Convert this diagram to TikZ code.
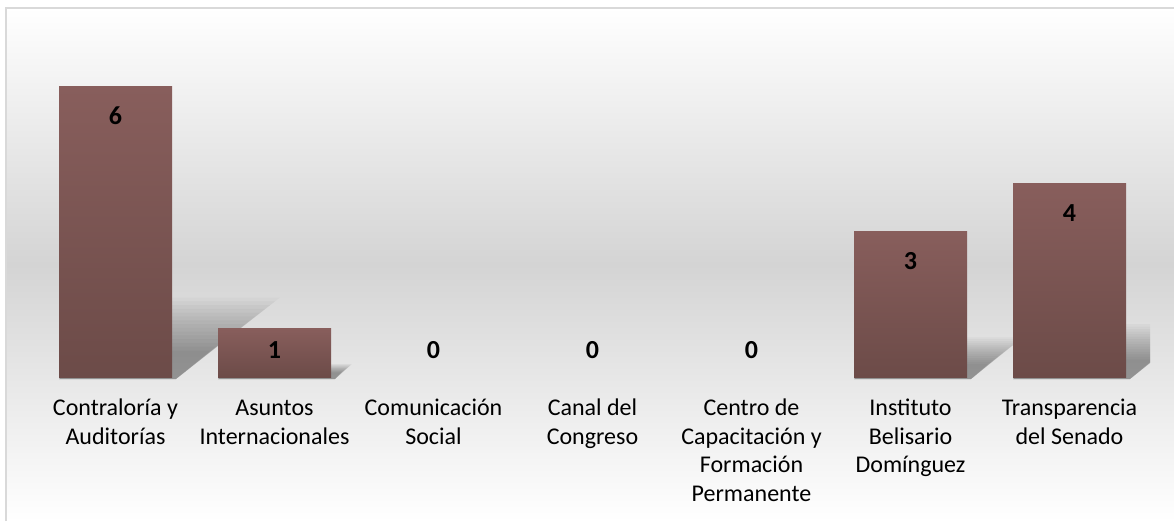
\documentclass[tikz,border=0pt]{standalone}
\usepackage{fontspec}
\setmainfont{Carlito}
\usetikzlibrary{calc}
\definecolor{barTop}{RGB}{136,94,92}
\definecolor{barBot}{RGB}{108,75,72}
\definecolor{bgMid}{RGB}{212,212,212}
\definecolor{frameCol}{RGB}{217,217,217}
\tikzset{
  bar/.style={top color=barTop, bottom color=barBot, draw=none},
  valbox/.style={font=\fontsize{13}{15.6}\selectfont\bfseries, inner sep=0pt},
  catbox/.style={font=\fontsize{12}{14.35}\selectfont, align=center, anchor=north, inner sep=0pt},
}

\begin{document}
\begin{tikzpicture}[x=0.5pt,y=-0.5pt]
  \pgfmathsetmacro{\base}{377};
  \pgfmathsetmacro{\unit}{48.5};
  \pgfmathsetmacro{\half}{56.5};
  \useasboundingbox (0,0) rectangle (1174,521);
  \fill[top color=white, bottom color=white, middle color=bgMid] (6,8) rectangle (1174,521);
  \draw[frameCol, line width=1pt] (6,521) -- (6,8) -- (1174,8);
  % shadows
  \begin{scope}
    \clip (20,8) rectangle (1150,521);
    \foreach \cx/\val in {115.5/6, 274.5/1, 910.5/3, 1069.5/4} {
      \pgfmathsetmacro{\h}{\unit*\val}
      \foreach \s in {1.05,1.0,...,0.3} {
        \fill[black, opacity=0.028]
          (\cx-\half,\base+2) -- (\cx+\half+4,\base+2)
          -- ++({0.34*\h*\s},{-0.26*\h*\s-2}) -- ({\cx-\half+0.34*\h*\s},{\base-0.26*\h*\s}) -- cycle;
      }
    }
  \end{scope}
  % bars and labels
  \foreach \cx/\val/\lbl [count=\i] in {
      115.5/6/{Contraloría y\\Auditorías},
      274.5/1/{Asuntos\\Internacionales},
      433.5/0/{Comunicación\\Social},
      592.5/0/{Canal del\\Congreso},
      751.5/0/{Centro de\\Capacitación y\\Formación\\Permanente},
      910.5/3/{Instituto\\Belisario\\Domínguez},
      1069.5/4/{Transparencia\\del Senado}} {
    \pgfmathsetmacro{\h}{\unit*\val}
    \ifnum\val>0
      \fill[bar] (\cx-\half,\base) rectangle (\cx+\half,\base-\h);
    \fi
    \pgfmathsetmacro{\vy}{min(\base-\h+30,350)}
    \node[valbox] (v\i) at (\cx,\vy) {\val};
    \node[catbox] (c\i) at (\cx,395) {\strut\lbl};
  }
\end{tikzpicture}
\end{document}
